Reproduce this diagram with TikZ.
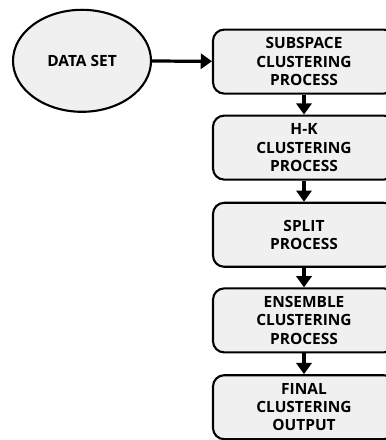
\documentclass[tikz,border=0pt]{standalone}
\usepackage{fontspec}
\setmainfont{Open Sans}
\usepackage{tikz}
\usetikzlibrary{arrows.meta, positioning, shapes.geometric}

\tikzset{
  procbox/.style={draw=black, line width=1.5pt, fill=gray!12, rounded corners=0.28cm,
    minimum width=4.55cm, minimum height=1.6cm, align=center,
    font=\fontsize{11}{12.9}\selectfont\bfseries},
  flowarrow/.style={-{Triangle[length=0.28cm, width=0.38cm]}, line width=2.3pt}
}

\begin{document}
\begin{tikzpicture}
    \useasboundingbox (0,0) rectangle (9.65,-11);
    % --- Input data ---
    \node[ellipse, draw=black, line width=1.5pt, fill=gray!12,
          minimum width=3.45cm, minimum height=2.55cm, inner sep=0pt,
          font=\fontsize{11}{12.9}\selectfont\bfseries]
      (data) at (2.05,-1.52) {DATA SET};
    % --- Process chain ---
    \node[procbox] (subspace) at (7.6,-1.54) {SUBSPACE\\CLUSTERING\\PROCESS};
    \node[procbox] (hk) at (7.6,-3.69) {H-K\\CLUSTERING\\PROCESS};
    \node[procbox] (split) at (7.6,-5.87) {SPLIT\\PROCESS};
    \node[procbox] (ensemble) at (7.6,-8.01) {ENSEMBLE\\CLUSTERING\\PROCESS};
    \node[procbox] (final) at (7.6,-10.18) {FINAL\\CLUSTERING\\OUTPUT};
    % --- Arrows ---
    \draw[flowarrow] (data) -- (subspace);
    \draw[flowarrow] (subspace) -- (hk);
    \draw[flowarrow] (hk) -- (split);
    \draw[flowarrow] (split) -- (ensemble);
    \draw[flowarrow] (ensemble) -- (final);
\end{tikzpicture}
\end{document}
